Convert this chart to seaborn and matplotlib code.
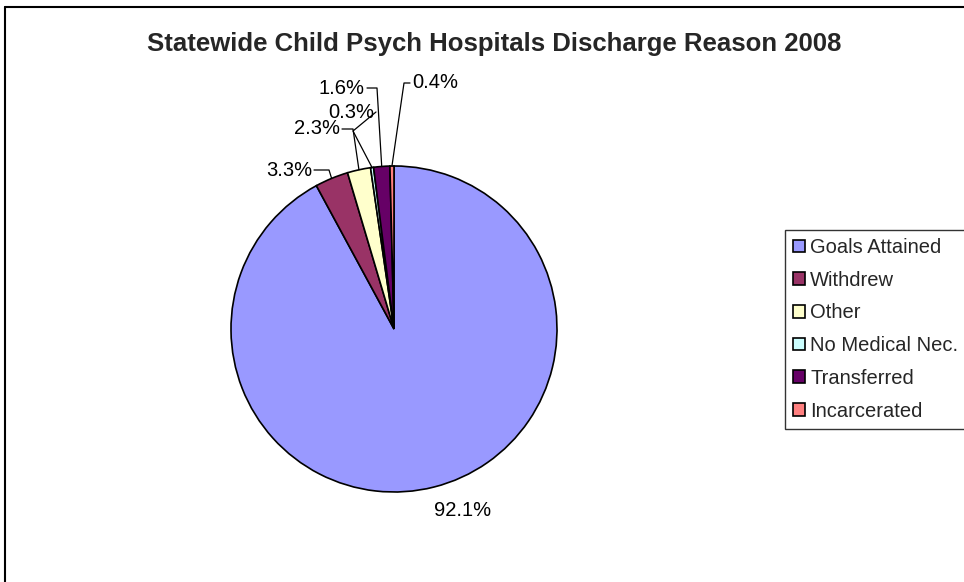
import matplotlib
matplotlib.use('Agg')
import matplotlib.pyplot as plt
from matplotlib.lines import Line2D
import numpy as np
import seaborn as sns

sns.set_style("white")
plt.rcParams['font.family'] = ['Liberation Sans', 'DejaVu Sans']

# discharge reasons, percent of discharges (2008)
reasons = ["Goals Attained", "Withdrew", "Other", "No Medical Nec.",
           "Transferred", "Incarcerated"]
shares = [92.1, 3.3, 2.3, 0.3, 1.6, 0.4]
slice_colors = ["#9999FF", "#993366", "#FFFFCC", "#CCFFFF", "#660066", "#FF8080"]
pct_labels = ["92.1%", "3.3%", "2.3%", "0.3%", "1.6%", "0.4%"]

# label placement (pixel space, y down): text anchor, alignment, elbow of leader
label_pos = [(463, 510), (312, 170), (340, 129), (374, 112), (365, 88), (412, 83)]
label_ha = ["center", "right", "right", "right", "right", "left"]
elbows = [None, (329, 170), (353, 129), (353, 131), (377, 88), (404, 83)]

W, H = 964, 582
cx, cy, R = 394, 329, 163

fig = plt.figure(figsize=(W / 100, H / 100), dpi=100)
ax = fig.add_axes([0, 0, 1, 1])

# y axis is inverted below, so counterclockwise in data = clockwise on screen
wedges, _ = ax.pie(shares, colors=slice_colors, startangle=-90, counterclock=True,
                   center=(cx, cy), radius=R,
                   wedgeprops=dict(edgecolor="black", linewidth=1.2))
ax.set_xlim(0, W)
ax.set_ylim(H, 0)
ax.set_aspect("equal")
ax.axis("off")

cum = np.cumsum(shares) - np.array(shares) / 2
for i, (lbl, pos, ha, elb) in enumerate(zip(pct_labels, label_pos, label_ha, elbows)):
    ax.text(pos[0], pos[1], lbl, ha=ha, va="center", fontsize=14.5, color="black")
    if elb is None:
        continue
    ang = np.deg2rad(-90 + cum[i] / sum(shares) * 360)
    ex, ey = cx + R * np.cos(ang), cy + R * np.sin(ang)
    ax.plot([pos[0] + (2 if ha == "right" else -2), elb[0], ex],
            [pos[1], elb[1], ey], color="black", lw=0.9)

ax.text(494, 44, "Statewide Child Psych Hospitals Discharge Reason 2008",
        ha="center", va="center", fontsize=18.5, fontweight="bold")

leg = ax.legend(wedges, reasons, loc="upper left",
                bbox_to_anchor=(785 / W, 1 - 230 / H), bbox_transform=fig.transFigure,
                frameon=True, fancybox=False, edgecolor="black", fontsize=14.5,
                handlelength=0.6, handleheight=0.6, handletextpad=0.25,
                labelspacing=0.68, borderpad=0.4, borderaxespad=0)
leg.get_frame().set_linewidth(1.0)

# outer chart frame (left and top edges visible)
fig.add_artist(Line2D([4.5 / W, 4.5 / W], [0, 1 - 7 / H], color="black", lw=1.5,
                      transform=fig.transFigure))
fig.add_artist(Line2D([4.5 / W, 1], [1 - 7 / H, 1 - 7 / H], color="black", lw=1.5,
                      transform=fig.transFigure))

fig.savefig("out.png", dpi=100)
